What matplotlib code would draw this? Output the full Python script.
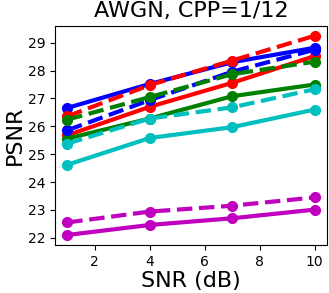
import numpy as np
import matplotlib
matplotlib.use("Agg")
import matplotlib.pyplot as plt

snr = [1, 4, 7, 10]

# solid lines
blue_solid = [26.66, 27.52, 28.30, 28.82]
red_solid = [25.68, 26.70, 27.56, 28.52]
green_solid = [25.56, 26.28, 27.08, 27.50]
cyan_solid = [24.62, 25.58, 25.97, 26.60]
magenta_solid = [22.10, 22.46, 22.70, 23.01]

# dashed lines
blue_dashed = [25.86, 26.94, 27.96, 28.75]
red_dashed = [26.36, 27.48, 28.36, 29.25]
green_dashed = [26.24, 27.05, 27.87, 28.32]
cyan_dashed = [25.38, 26.28, 26.68, 27.33]
magenta_dashed = [22.55, 22.94, 23.15, 23.45]

fig = plt.figure(figsize=(3.29, 2.93), dpi=100)
ax = fig.add_axes([0.167, 0.164, 0.827, 0.748])

solids = [(blue_solid, 'b'), (red_solid, 'r'), (green_solid, 'g'),
          (cyan_solid, 'c'), (magenta_solid, 'm')]
dashes = [(blue_dashed, 'b'), (red_dashed, 'r'), (green_dashed, 'g'),
          (cyan_dashed, 'c'), (magenta_dashed, 'm')]

for vals, c in solids:
    ax.plot(snr, vals, '-o', color=c, linewidth=3, markersize=7)
for vals, c in dashes:
    ax.plot(snr, vals, '--o', color=c, linewidth=3, markersize=7)

ax.set_xticks([2, 4, 6, 8, 10])
ax.set_yticks([22, 23, 24, 25, 26, 27, 28, 29])
ax.tick_params(labelsize=10)
ax.set_xlabel('SNR (dB)', fontsize=16, labelpad=2)
ax.set_ylabel('PSNR', fontsize=16, labelpad=2)
ax.set_title('AWGN, CPP=1/12', fontsize=16)

fig.savefig('out.png', dpi=100)
